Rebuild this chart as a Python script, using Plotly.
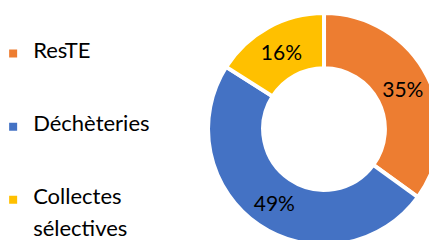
import plotly.graph_objects as go

labels = ["ResTE", "Déchèteries", "Collectes sélectives"]
values = [35, 49, 16]
colors = ["#ED7D31", "#4472C4", "#FFC000"]

# legend entries: visible text in the middle line, blank lines for spacing
def big(s, extra=""):
    return "<span style='font-size:22px" + extra + "'>" + s + "</span>"

legend_labels = [
    " <br> <br>" + big("ResTE") + "<br> <br> ",
    " <br> <br>" + big("Déchèteries") + "<br> <br> ",
    " <br> <br>" + big("Collectes") + "<br> <br>" + big("sélectives", ";baseline-shift:-4px"),
]

fig = go.Figure(go.Pie(
    labels=legend_labels,
    values=values,
    hole=0.525,
    sort=False,
    direction="clockwise",
    rotation=0,
    marker=dict(colors=colors, line=dict(color="white", width=4)),
    texttemplate="%{value}%",
    textposition="inside",
    insidetextorientation="horizontal",
    textfont=dict(family="Lato", size=21, color="black"),
    domain=dict(x=[0.4577, 0.9886], y=[0.0125, 0.979]),
    hoverinfo="percent",
))

fig.update_layout(
    width=437, height=240,
    margin=dict(l=0, r=0, t=0, b=0, autoexpand=False),
    paper_bgcolor="white",
    showlegend=True,
    legend=dict(
        x=-0.034, y=0.984, xanchor="left", yanchor="top",
        font=dict(family="Lato", size=10.8, color="black"),
        valign="middle",
        bgcolor="rgba(0,0,0,0)",
    ),
    font=dict(family="Lato"),
)

fig.write_html("out.html")
